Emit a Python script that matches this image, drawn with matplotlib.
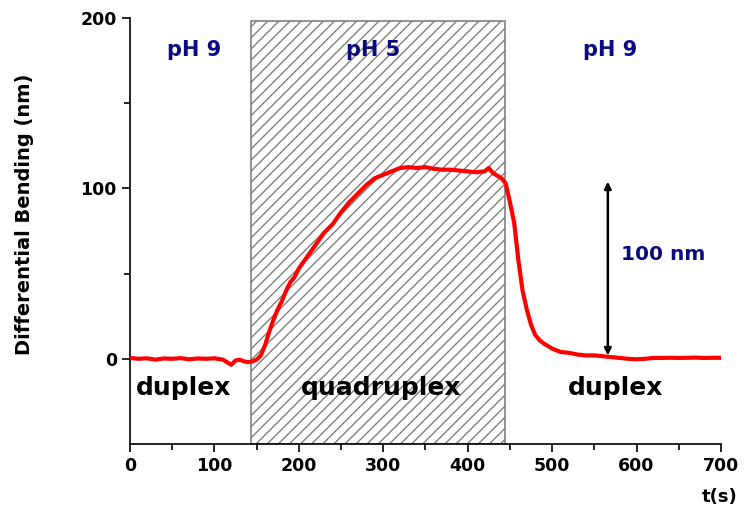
import matplotlib
matplotlib.use("Agg")
import matplotlib.pyplot as plt
from matplotlib.patches import Rectangle

# ── Data ──────────────────────────────────────────────────────────────────────
t_s = [0, 10, 20, 30, 40, 50, 60, 70, 80, 90, 100, 110, 115, 120, 125, 130,
       135, 140, 145, 150, 155, 160, 165, 170, 175, 180, 185, 190, 195, 200,
       210, 220, 230, 240, 250, 260, 270, 280, 290, 300, 310, 320, 330, 340,
       350, 360, 370, 380, 390, 400, 410, 420, 425, 430, 440, 445, 450, 455,
       460, 465, 470, 475, 480, 485, 490, 500, 510, 520, 530, 540, 550, 560,
       570, 580, 590, 600, 610, 620, 630, 640, 650, 660, 670, 680, 690, 700]
bending_nm = [0.5, 0, 0.3, -0.5, 0.2, 0, 0.4, -0.3, 0.2, 0, 0.3, -0.5, -2, -3.5,
              -1, -0.5, -1.5, -2, -1.5, -0.5, 2, 8, 16, 23, 29, 34, 40, 45, 48,
              53, 60, 67, 74, 79, 86, 92, 97, 102, 106, 108, 110, 112, 112.5,
              112, 112.5, 111.5, 111, 111, 110.5, 110, 109.5, 110, 112, 109,
              106, 103, 92, 80, 58, 40, 29, 20, 14, 11, 9, 6, 4, 3.5, 2.5, 2,
              2, 1.5, 1, 0.5, 0, -0.3, 0, 0.5, 0.5, 0.6, 0.5, 0.6, 0.7, 0.5,
              0.6, 0.6]

acid_window = (143, 444)     # pH 5 interval, seconds
acid_top = 198

ph_labels = ["pH 9", "pH 5", "pH 9"]
ph_x = [76, 288, 569]
state_labels = ["duplex", "quadruplex", "duplex"]
state_x = [64, 298, 575]

arrow_x = 566
arrow_span = (2, 104)

NAVY = "#0a0a80"

plt.rcParams["hatch.color"] = "#8a8a8a"
plt.rcParams["hatch.linewidth"] = 1.0

fig = plt.figure(figsize=(7.5, 5.15), dpi=100)
ax = fig.add_axes([0.1733, 0.1379, 0.788, 0.827])

ax.add_patch(Rectangle((acid_window[0], -50), acid_window[1] - acid_window[0],
                       acid_top + 50, facecolor="white", edgecolor="#808080",
                       hatch="///", linewidth=1.2, zorder=1))

ax.plot(t_s, bending_nm, color="#ff0000", linewidth=3, zorder=3)

ax.annotate("", xy=(arrow_x, arrow_span[1]), xytext=(arrow_x, arrow_span[0]),
            arrowprops=dict(arrowstyle="<|-|>", color="black", lw=1.8,
                            mutation_scale=10, shrinkA=0, shrinkB=0), zorder=4)
ax.text(arrow_x + 15, 61, "100 nm", color=NAVY, fontsize=14.5,
        fontweight="bold", va="center", ha="left")

for x, lab in zip(ph_x, ph_labels):
    ax.text(x, 181, lab, color=NAVY, fontsize=15, fontweight="bold",
            ha="center", va="center")
for x, lab in zip(state_x, state_labels):
    ax.text(x, -17, lab, color="black", fontsize=18, fontweight="bold",
            ha="center", va="center")

ax.set_xlim(0, 700)
ax.set_ylim(-50, 200)
ax.set_xticks(range(0, 701, 100))
ax.set_xticks(range(50, 701, 100), minor=True)
ax.set_yticks([0, 100, 200])
ax.set_yticks([50, 150], minor=True)

for side in ("top", "right"):
    ax.spines[side].set_visible(False)
for side in ("left", "bottom"):
    ax.spines[side].set_linewidth(1.2)

ax.tick_params(which="major", direction="out", length=6, width=1.2,
               labelsize=12.5)
ax.tick_params(which="minor", direction="out", length=4, width=1.2)
for lbl in ax.get_xticklabels() + ax.get_yticklabels():
    lbl.set_fontweight("bold")

ax.set_ylabel("Differential Bending (nm)", fontsize=14, fontweight="bold")
# label centre sits at x≈33 px, y≈211 px in the reference
ax.yaxis.set_label_coords(-0.163, 0.54)
fig.text(0.96, 0.035, "t(s)", fontsize=13, fontweight="bold",
         ha="center", va="center")

fig.savefig("out.png", dpi=100)
